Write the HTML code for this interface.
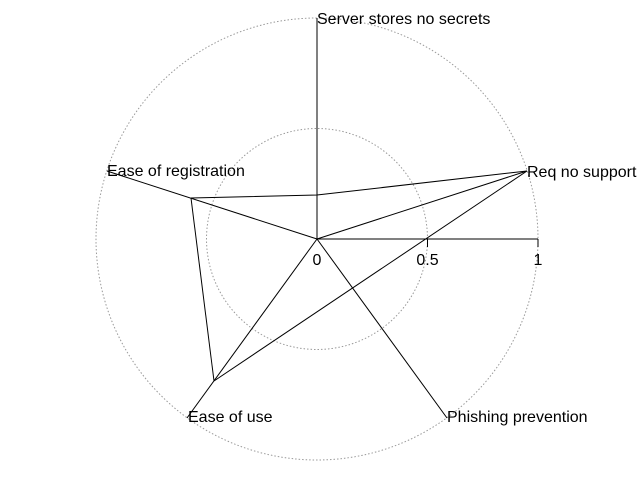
<!DOCTYPE html>
<html><head><style>body{margin:0;background:#fff}svg{display:block}text{font-family:"Liberation Sans",sans-serif;font-size:16px;fill:#000}</style></head>
<body>
<svg width="640" height="480" viewBox="0 0 640 480">
<rect width="640" height="480" fill="#fff"/>
<g fill="none" stroke="#999" stroke-dasharray="1.5,2" stroke-width="1">
<circle cx="317" cy="239" r="110.5"/>
<circle cx="317" cy="239" r="221"/>
</g>
<g stroke="#000" stroke-width="1" fill="none">
<line x1="317" y1="239" x2="317" y2="18"/>
<line x1="317" y1="239" x2="538" y2="239"/>
<line x1="427.5" y1="239" x2="427.5" y2="247"/>
<line x1="538" y1="239" x2="538" y2="247"/>
<line x1="317" y1="239" x2="447" y2="418"/>
<line x1="317" y1="239" x2="187" y2="418"/>
<line x1="317" y1="239" x2="107" y2="171"/>
<line x1="317" y1="239" x2="527" y2="171"/>
<polyline points="191,198 317,195 527,171"/>
<line x1="527" y1="171" x2="214" y2="381"/>
<line x1="214" y1="381" x2="191" y2="198"/>
</g>
<text x="317" y="24">Server stores no secrets</text>
<text x="527" y="177">Req no support</text>
<text x="107" y="176">Ease of registration</text>
<text x="188" y="422">Ease of use</text>
<text x="447" y="422">Phishing prevention</text>
<text x="317" y="265" text-anchor="middle">0</text>
<text x="427.5" y="265" text-anchor="middle">0.5</text>
<text x="538" y="265" text-anchor="middle">1</text>
</svg>
</body></html>
